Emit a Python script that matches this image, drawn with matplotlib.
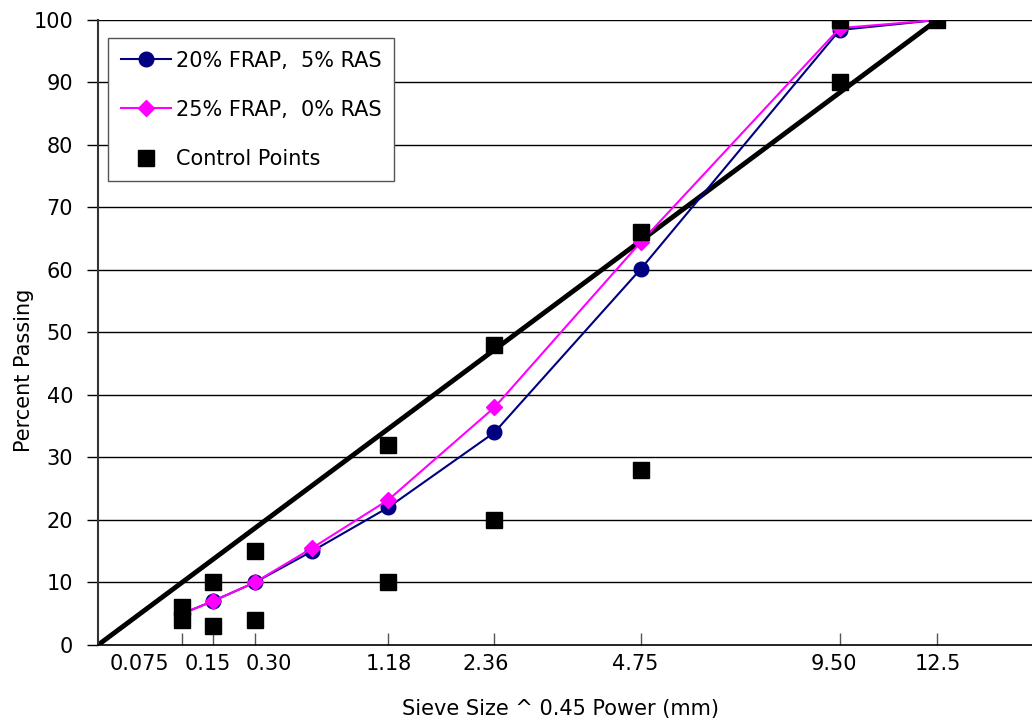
import matplotlib.pyplot as plt
import numpy as np

plt.rcParams['font.family'] = ['DejaVu Sans']

# sieve sizes (mm) and gradations
sieves = [0.075, 0.15, 0.30, 0.60, 1.18, 2.36, 4.75, 9.50, 12.5]
mix_20frap = [5, 7, 10, 15, 22, 34, 60.2, 98.4, 100]
mix_25frap = [5, 7, 10, 15.5, 23.2, 38, 64.5, 98.7, 100]

ctrl_sieves = [0.075, 0.075, 0.15, 0.15, 0.30, 0.30, 1.18, 1.18, 2.36, 2.36, 4.75, 4.75, 9.50, 9.50, 12.5]
ctrl_pass = [4, 6, 3, 10, 4, 15, 10, 32, 20, 48, 28, 66, 90, 100, 100]

tick_sieves = [0.075, 0.15, 0.30, 1.18, 2.36, 4.75, 9.50, 12.5]
tick_labels = ['0.075', '0.15', '0.30', '1.18', '2.36', '4.75', '9.50', '12.5']
# where the labels sit (x ^ 0.45 units), they are offset from the ticks in the original
label_pos = [0.152, 0.408, 0.635, 1.078, 1.439, 1.994, 2.733, 3.119]

p = 0.45
x1 = np.array(sieves) ** p
xc = np.array(ctrl_sieves) ** p
xt = np.array(tick_sieves) ** p
nmax = 12.5 ** p

fs = 15

fig = plt.figure(figsize=(10.32, 7.27), dpi=100)
ax = fig.add_axes([0.095, 0.1128, 0.905, 0.8597])

for yv in range(10, 101, 10):
    ax.axhline(yv, color='black', lw=1.0, zorder=1)

# maximum density line
ax.plot([0, nmax], [0, 100], color='black', lw=3.5, zorder=2)

ax.plot(x1, mix_20frap, color='#000080', lw=1.5, marker='o', ms=10.5,
        label='20% FRAP,  5% RAS', zorder=3)
ax.plot(x1, mix_25frap, color='#FF00FF', lw=1.5, marker='D', ms=8.5,
        label='25% FRAP,  0% RAS', zorder=4)
ax.plot(xc, ctrl_pass, ls='none', marker='s', ms=11, color='black',
        label='Control Points', zorder=5)

ax.set_xlim(0, 3.468)
ax.set_ylim(0, 100)
ax.set_yticks(range(0, 101, 10))
ax.tick_params(axis='y', direction='out', length=8, width=1, labelsize=fs, pad=10)

ax.set_xticks(xt)
ax.set_xticklabels([])
ax.tick_params(axis='x', direction='in', length=9, width=1, color='#555555')
for xp, lab in zip(label_pos, tick_labels):
    ax.text(xp, -1.4, lab, ha='center', va='top', fontsize=fs)

for s in ['top', 'right']:
    ax.spines[s].set_visible(False)
ax.spines['left'].set_linewidth(1.5)
ax.spines['left'].set_color('#333333')
ax.spines['bottom'].set_linewidth(1.2)

ax.set_xlabel('Sieve Size ^ 0.45 Power (mm)', fontsize=fs)
ax.xaxis.set_label_coords(0.495, -0.087)
ax.set_ylabel('Percent Passing', fontsize=fs)
ax.yaxis.set_label_coords(-0.069, 0.44)

leg = ax.legend(loc='upper left', bbox_to_anchor=(0.0107, 0.971), fontsize=fs,
                frameon=True, fancybox=False, edgecolor='#555555', framealpha=1,
                handlelength=2.4, handletextpad=0.25, borderpad=0.6,
                labelspacing=1.4, borderaxespad=0)
leg.get_frame().set_linewidth(1.0)

fig.savefig('out.png', dpi=100)
